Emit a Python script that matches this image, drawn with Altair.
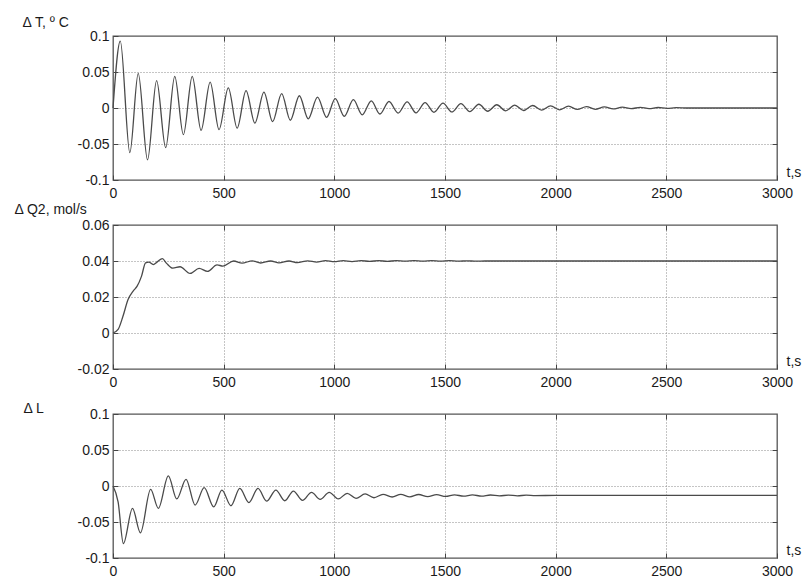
import altair as alt
import pandas as pd

# ---- data ----
t_T = [0, 33, 76, 114, 156, 197, 238, 279, 318, 358, 398, 439, 479, 521, 561, 601, 641, 682, 721, 762,
       801, 842, 882, 924, 965, 1004, 1045, 1086, 1126, 1167, 1206, 1247, 1288, 1329, 1369, 1410, 1450,
       1491, 1531, 1572, 1612, 1653, 1693, 1734, 1774, 1815, 1855, 1896, 1936, 1977, 2017, 2058, 2098,
       2139, 2179, 2220, 2260, 2301, 2341, 2382, 2422, 2463, 2503, 2544, 2600, 3000]
dT = [0, 0.093, -0.062, 0.048, -0.072, 0.038, -0.055, 0.044, -0.037, 0.044, -0.031, 0.036, -0.030, 0.028,
      -0.028, 0.024, -0.021, 0.022, -0.019, 0.020, -0.017, 0.017, -0.015, 0.015, -0.013, 0.013, -0.0115,
      0.0115, -0.0095, 0.010, -0.0083, 0.009, -0.007, 0.0085, -0.0068, 0.0075, -0.006, 0.0068, -0.0055,
      0.006, -0.005, 0.0052, -0.0045, 0.0045, -0.004, 0.004, -0.0035, 0.0035, -0.003, 0.003, -0.0025,
      0.0025, -0.002, 0.002, -0.0018, 0.0015, -0.0013, 0.0012, -0.001, 0.001, -0.0008, 0.0007, -0.0006,
      0.0005, 0, 0]

t_Q = [0, 23, 45, 68, 91, 109, 129, 147, 162, 182, 200, 223, 242, 270, 303, 348, 389, 427, 470, 497,
       545, 583, 629, 667, 712, 750, 795, 833, 880, 920, 960, 1000, 1040, 1080, 1120, 1160, 1200, 1240,
       1280, 1320, 1360, 1400, 1440, 1480, 1520, 1560, 1600, 1640, 1680, 3000]
dQ = [0, 0.002, 0.0093, 0.0186, 0.0233, 0.026, 0.0316, 0.039, 0.0394, 0.038, 0.0395, 0.0413, 0.0387,
      0.036, 0.0368, 0.0331, 0.0359, 0.0342, 0.0378, 0.0372, 0.040, 0.0388, 0.0401, 0.0389, 0.0400,
      0.0390, 0.0400, 0.0391, 0.0401, 0.0394, 0.0402, 0.0396, 0.0402, 0.0397, 0.0402, 0.0398, 0.0402,
      0.0398, 0.0402, 0.0399, 0.0402, 0.0399, 0.0402, 0.0399, 0.0402, 0.0399, 0.0401, 0.0399, 0.040, 0.040]

t_L = [0, 23, 47, 88, 124, 170, 205, 250, 288, 330, 371, 412, 455, 492, 533, 573, 614, 655, 694, 736,
       776, 815, 856, 897, 936, 977, 1018, 1058, 1098, 1139, 1179, 1220, 1261, 1300, 1341, 1381, 1422,
       1462, 1503, 1543, 1584, 1624, 1665, 1705, 1746, 1786, 1827, 1867, 1908, 2000, 3000]
dL = [0, -0.022, -0.080, -0.031, -0.065, -0.0047, -0.031, 0.014, -0.018, 0.0093, -0.0265, -0.0023,
      -0.029, -0.0056, -0.0274, -0.0033, -0.023, -0.0033, -0.021, -0.0056, -0.0205, -0.007, -0.020,
      -0.0088, -0.0186, -0.0088, -0.018, -0.0102, -0.0172, -0.011, -0.0163, -0.0116, -0.0153, -0.0116,
      -0.0150, -0.0118, -0.0148, -0.012, -0.0145, -0.0122, -0.0142, -0.0124, -0.014, -0.0125, -0.0138,
      -0.0126, -0.0136, -0.0128, -0.0134, -0.013, -0.013]

x_ticks = [0, 500, 1000, 1500, 2000, 2500, 3000]
x_grid = [500, 1000, 1500, 2000, 2500]

W, H = 664, 144
FONT = "Liberation Sans"


def panel(t, v, ydom, yticks, ygrid, ytitle, tx, ty):
    df = pd.DataFrame({"t": t, "v": v})
    xs = alt.Scale(domain=[0, 3000], nice=False)
    ys = alt.Scale(domain=ydom, nice=False, zero=False)
    ghost = alt.Chart(df).mark_line(opacity=0).encode(
        x=alt.X("t:Q", scale=xs, axis=alt.Axis(
            orient="top", values=x_grid, offset=-5, tickSize=5, labels=False, domain=False,
            grid=True, gridDash=[1, 2], gridColor="#8a8a8a", title="")),
        y=alt.Y("v:Q", scale=ys, axis=alt.Axis(
            orient="right", values=ygrid, offset=-5, tickSize=5, labels=False, domain=False,
            grid=True, gridDash=[1, 2], gridColor="#8a8a8a", title="")),
    )
    main = alt.Chart(df).mark_line(interpolate="monotone", color="#4a4a4a", strokeWidth=1.3).encode(
        x=alt.X("t:Q", scale=xs, axis=alt.Axis(
            orient="bottom", values=x_ticks, format="d", offset=-5, tickSize=5, labelPadding=6,
            labelFlush=False, labelOverlap=False, domain=False, grid=False,
            title="t,s", titleX=W + 9, titleY=1, titleAlign="left", titleBaseline="alphabetic",
            titleAngle=0)),
        y=alt.Y("v:Q", scale=ys, axis=alt.Axis(
            orient="left", values=yticks, labelExpr="'' + datum.value", offset=-5, tickSize=5,
            labelPadding=4, labelOverlap=False, domain=False, grid=False,
            title=ytitle, titleAngle=0, titleX=tx, titleY=ty, titleAlign="left",
            titleBaseline="alphabetic")),
    )
    return alt.layer(ghost, main).resolve_axis(x="independent", y="independent").properties(
        width=W, height=H)


p1 = panel(t_T, dT, [-0.1, 0.1], [-0.1, -0.05, 0, 0.05, 0.1], [-0.05, 0, 0.05],
           "Δ T, º C", -96, -10)
p2 = panel(t_Q, dQ, [-0.02, 0.06], [-0.02, 0, 0.02, 0.04, 0.06], [0, 0.02, 0.04],
           "Δ Q2, mol/s", -104, -12)
p3 = panel(t_L, dL, [-0.1, 0.1], [-0.1, -0.05, 0, 0.05, 0.1], [-0.05, 0, 0.05],
           "Δ L", -95, -2)

chart = alt.vconcat(p1, p2, p3, spacing=45, bounds="flush").properties(
    padding={"left": 5, "top": 6, "right": 0, "bottom": 0}
).configure_view(
    stroke="#555555", strokeWidth=1.3
).configure_axis(
    labelFont=FONT, labelFontSize=14, labelColor="#1a1a1a",
    titleFont=FONT, titleFontSize=14, titleColor="#1a1a1a", titleFontWeight="normal",
    tickColor="#444444", tickWidth=1
)

chart.save("out.html", embed_options={"renderer": "svg", "actions": False})
